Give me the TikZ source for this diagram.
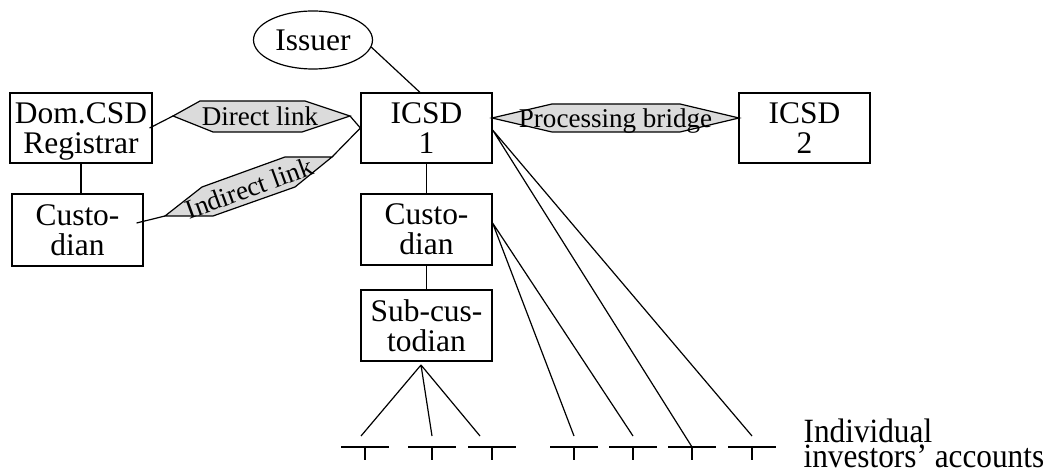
\documentclass[tikz,border=0pt]{standalone}
\usepackage{fontspec}
\setmainfont{Liberation Serif}
\usepackage{graphicx}
\usetikzlibrary{shapes.geometric}
\definecolor{linkgray}{gray}{0.86}
\newcommand{\boxfont}{\fontsize{23.6}{22.5}\selectfont}
\newcommand{\linkfont}{\fontsize{20.3}{22}\selectfont}
\begin{document}
\begin{tikzpicture}[x=0.75pt,y=-0.75pt, line width=0.9pt,
  box/.style={draw, inner sep=0pt, align=center, font=\boxfont, text depth=0pt,
              minimum width=98.25pt, minimum height=52.5pt},
  linkshape/.style={draw, fill=linkgray, line join=miter},
  linktext/.style={inner sep=0pt, font=\linkfont, text depth=0pt},
  acctbar/.style={draw}
]
\useasboundingbox (0,0) rectangle (1048,473);

% boxes
\node[box, minimum width=106.5pt] (dom) at (81,128) {Dom.CSD\\Registrar};
\node[box, minimum height=54pt] (cust1) at (77.5,230) {Custo-\\dian};
\node[box] (icsd1) at (426.5,128) {ICSD\\1};
\node[box] (icsd2) at (804.5,128) {ICSD\\2};
\node[box, minimum height=53.25pt] (cust2) at (426.5,229.5) {Custo-\\dian};
\node[box, minimum height=53.25pt] (sub) at (426.5,325.5) {Sub-cus-\\todian};
\node[draw, ellipse, inner sep=0pt, minimum width=89.25pt, minimum height=43.5pt,
      font=\boxfont] (issuer) at (313,40) {Issuer};

% link shapes
\coordinate (dlW) at (173,116); \coordinate (dlE) at (350,116);
\draw[linkshape] (dlW) -- (200,101) -- (305,101) -- (dlE) -- (302,132) -- (213,132) -- cycle;
\node[linktext] (dl) at (260,116) {Direct link};

\coordinate (ilW) at (165,216); \coordinate (ilE) at (332,157);
\draw[linkshape] (ilW) -- (202,187) -- (285,157) -- (ilE) -- (295,187) -- (213,216) -- cycle;
\node[linktext, rotate=20] (il) at (249,188) {Indirect link};

\coordinate (pbW) at (492,118); \coordinate (pbE) at (739,118);
\draw[linkshape] (pbW) -- (552,104) -- (680,104) -- (pbE) -- (680,132) -- (552,132) -- cycle;
\node[linktext] (pb) at (615.5,118) {Processing bridge};

% connectors
\draw ([xshift=-2.25pt]dom.east) -- (dlW);
\draw (dlE) -- (icsd1.west);
\draw ([shift={(-7,-7)}]cust1.east) -- (ilW);
\draw (ilE) -- (icsd1.west);
\draw (issuer.-7) -- ([xshift=-4.9pt]icsd1.north);
\draw (dom.south) -- (dom.south |- cust1.north);
\draw (icsd1.south) -- (cust2.north);
\draw (cust2.south) -- (sub.north);

% accounts
\foreach \n/\x in {1/365, 2/432, 3/492, 4/574, 5/633, 6/692, 7/752}{
  \coordinate (acc\n) at (\x,447);
  \draw[acctbar] (\x-24,447) -- (\x+24,447) (\x,447) -- (\x,460);
}
\coordinate (subfoot) at (421,365);
\coordinate (t1) at (361,436);
\coordinate (t2) at (432,436);
\coordinate (t3) at (480,436);
\coordinate (t4) at (574,436);
\coordinate (t5) at (633,436);
\coordinate (t7) at (752,436);
\draw (subfoot) -- (t1) (subfoot) -- (t2) (subfoot) -- (t3);
\draw ([shift={(0,-6.5)}]cust2.east) -- (t4) ([shift={(0,-6.5)}]cust2.east) -- (t5);
\draw ([shift={(0,2)}]icsd1.east) -- (acc6) ([shift={(0,2)}]icsd1.east) -- (t7);

\node[anchor=base west, inner sep=0pt] (lbl) at (803,467)
  {\scalebox{0.92}[1]{\fontsize{25.5}{18.75}\selectfont\vbox{\baselineskip=18.75pt\lineskiplimit=-1000pt\lineskip=0pt
   \hbox{Individual}\hbox{investors’ accounts}}}};
\end{tikzpicture}
\end{document}
